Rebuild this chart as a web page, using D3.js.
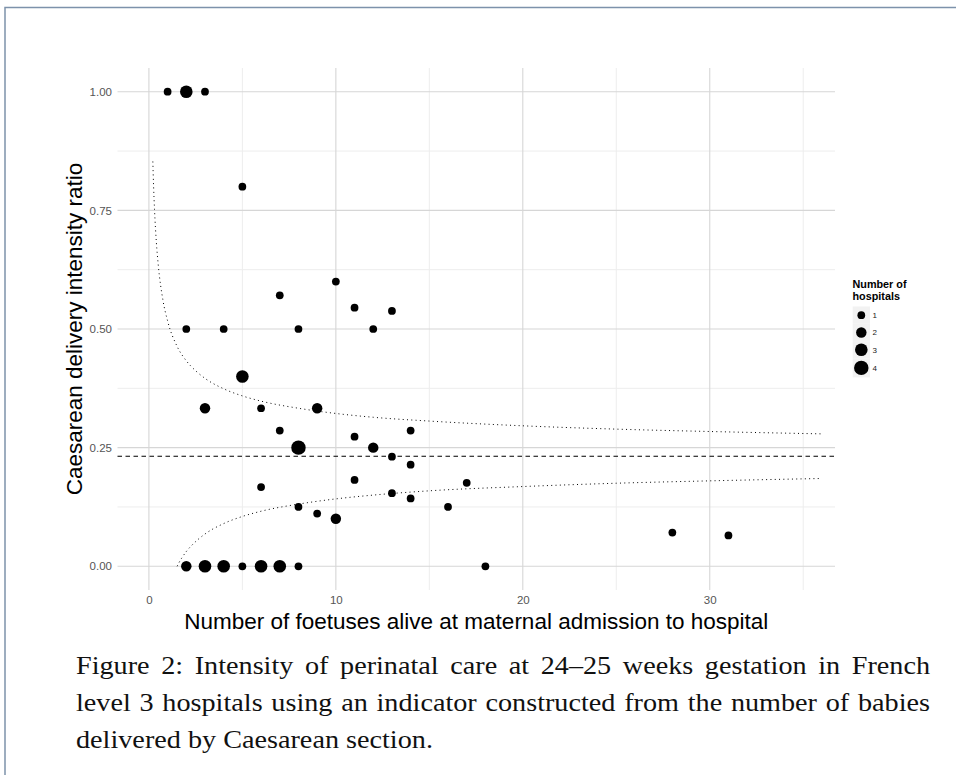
<!DOCTYPE html>
<html>
<head>
<meta charset="utf-8">
<title>Caesarean delivery intensity</title>
<script src="https://d3js.org/d3.v7.min.js"></script>
<style>
body { margin: 0; background: #fff; }
</style>
</head>
<body>
<div class="chart"></div>
<script>
// ======================
// data
// ======================
var foetuses = [1, 2, 3, 5, 10, 7, 11, 13, 2, 4, 8, 12, 5, 3, 6, 9, 7, 14, 11, 8, 12, 13,
    14, 11, 17, 6, 13, 14, 8, 16, 9, 10, 28, 31, 2, 3, 4, 5, 6, 7, 8, 18];
var caesareanRatio = [1, 1, 1, 0.8, 0.6, 0.571, 0.545, 0.538, 0.5, 0.5, 0.5, 0.5, 0.4, 0.333,
    0.333, 0.333, 0.286, 0.286, 0.273, 0.25, 0.25, 0.231, 0.214, 0.182, 0.176, 0.167, 0.154,
    0.143, 0.125, 0.125, 0.111, 0.1, 0.071, 0.065, 0, 0, 0, 0, 0, 0, 0, 0];
var hospitalCount = [1, 3, 1, 1, 1, 1, 1, 1, 1, 1, 1, 1, 3, 2, 1, 2, 1, 1, 1, 4, 2, 1,
    1, 1, 1, 1, 1, 1, 1, 1, 1, 2, 1, 1, 2, 3, 3, 1, 3, 3, 1, 1];

var overallRatio = 0.232;

// funnel limits (dotted)
var upperN = [0.21, 0.25, 0.3, 0.4, 0.5, 0.75, 1, 1.5, 2, 2.5, 3, 4, 5, 6, 8, 10, 12, 15, 20, 25, 30, 36];
var upperLimit = [0.853, 0.801, 0.752, 0.682, 0.635, 0.561, 0.517, 0.464, 0.433, 0.412, 0.396,
    0.374, 0.359, 0.348, 0.333, 0.322, 0.314, 0.306, 0.296, 0.289, 0.284, 0.279];
var lowerN = [1.51, 1.6, 1.75, 2, 2.5, 3, 4, 5, 6, 8, 10, 12, 15, 20, 25, 30, 36];
var lowerLimit = [0, 0.007, 0.017, 0.031, 0.052, 0.068, 0.090, 0.105, 0.116, 0.131, 0.142,
    0.150, 0.159, 0.168, 0.175, 0.180, 0.185];

var xMajor = [0, 10, 20, 30];
var xMinor = [5, 15, 25, 35];
var yMajor = [0, 0.25, 0.5, 0.75, 1];
var yMinor = [0.125, 0.375, 0.625, 0.875];
var sizeLevels = [1, 2, 3, 4];

var captionLines = [
    'Figure 2: Intensity of perinatal care at 24\u201325 weeks gestation in French',
    'level 3 hospitals using an indicator constructed from the number of babies',
    'delivered by Caesarean section.'
];

// ======================
// layout
// ======================
var width = 956, height = 775;
var panel = {left: 117.5, right: 835, top: 68, bottom: 590};
var sans = '"Liberation Sans", Arial, Helvetica, sans-serif';

var svg = d3.select('.chart').append('svg')
        .attr('width', width)
        .attr('height', height);

svg.append('rect')
        .attr('width', width)
        .attr('height', height)
        .attr('fill', '#fff');

// page frame (only left and top edges show)
svg.append('path')
        .attr('d', 'M 5 ' + height + ' L 5 7.5 L ' + width + ' 7.5')
        .attr('fill', 'none')
        .attr('stroke', '#7d92ab')
        .attr('stroke-width', 1.5);

var x = d3.scaleLinear().domain([-1.68, 36.7]).range([panel.left, panel.right]);
var y = d3.scaleLinear().domain([-0.05, 1.05]).range([panel.bottom, panel.top]);
var area = d3.scaleLinear().domain([1, 4]).range([15, 52]);
var radius = function (n) { return Math.sqrt(area(n)); };

// ======================
// grid
// ======================
var grid = svg.append('g');
grid.selectAll('.vminor').data(xMinor).enter().append('line')
        .attr('x1', function (d) { return x(d); })
        .attr('x2', function (d) { return x(d); })
        .attr('y1', panel.top).attr('y2', panel.bottom)
        .attr('stroke', '#ededed').attr('stroke-width', 1);
grid.selectAll('.hminor').data(yMinor).enter().append('line')
        .attr('y1', function (d) { return y(d); })
        .attr('y2', function (d) { return y(d); })
        .attr('x1', panel.left).attr('x2', panel.right)
        .attr('stroke', '#ededed').attr('stroke-width', 1);
grid.selectAll('.vmajor').data(xMajor).enter().append('line')
        .attr('x1', function (d) { return x(d); })
        .attr('x2', function (d) { return x(d); })
        .attr('y1', panel.top).attr('y2', panel.bottom)
        .attr('stroke', '#d6d6d6').attr('stroke-width', 1.1);
grid.selectAll('.hmajor').data(yMajor).enter().append('line')
        .attr('y1', function (d) { return y(d); })
        .attr('y2', function (d) { return y(d); })
        .attr('x1', panel.left).attr('x2', panel.right)
        .attr('stroke', '#d6d6d6').attr('stroke-width', 1.1);

// ======================
// axes (labels only)
// ======================
var xAxis = svg.append('g')
        .attr('transform', 'translate(0,' + panel.bottom + ')')
        .call(d3.axisBottom(x).tickValues(xMajor).tickSize(0).tickPadding(5.5));
var yAxis = svg.append('g')
        .attr('transform', 'translate(' + panel.left + ',0)')
        .call(d3.axisLeft(y).tickValues(yMajor).tickSize(0).tickPadding(5.5)
                .tickFormat(d3.format('.2f')));
[xAxis, yAxis].forEach(function (a) {
    a.select('.domain').remove();
    a.attr('font-size', 11.5).attr('font-family', sans);
    a.selectAll('text').attr('fill', '#555');
});

svg.append('text')
        .attr('x', (panel.left + panel.right) / 2)
        .attr('y', 629)
        .attr('text-anchor', 'middle')
        .attr('font-family', sans)
        .attr('font-size', 22.5)
        .text('Number of foetuses alive at maternal admission to hospital');
svg.append('text')
        .attr('transform', 'translate(82,' + (panel.top + panel.bottom) / 2 + ') rotate(-90)')
        .attr('text-anchor', 'middle')
        .attr('font-family', sans)
        .attr('font-size', 22.5)
        .text('Caesarean delivery intensity ratio');

// ======================
// reference lines
// ======================
svg.append('line')
        .attr('x1', panel.left).attr('x2', panel.right)
        .attr('y1', y(overallRatio)).attr('y2', y(overallRatio))
        .attr('stroke', '#000').attr('stroke-width', 1.1)
        .attr('stroke-dasharray', '4.5,3.5');

var limitLine = d3.line()
        .x(function (d) { return x(d[0]); })
        .y(function (d) { return y(d[1]); })
        .curve(d3.curveMonotoneX);
[d3.zip(upperN, upperLimit), d3.zip(lowerN, lowerLimit)].forEach(function (pts) {
    svg.append('path')
            .attr('d', limitLine(pts))
            .attr('fill', 'none')
            .attr('stroke', '#000')
            .attr('stroke-width', 1)
            .attr('stroke-dasharray', '1,3.3');
});

// ======================
// points
// ======================
var points = foetuses.map(function (n, i) {
    return {n: n, r: caesareanRatio[i], k: hospitalCount[i]};
});
svg.append('g').selectAll('circle').data(points).enter().append('circle')
        .attr('cx', function (d) { return x(d.n); })
        .attr('cy', function (d) { return y(d.r); })
        .attr('r', function (d) { return radius(d.k); })
        .attr('fill', '#000');

// ======================
// legend
// ======================
var legend = svg.append('g').attr('font-family', sans);
legend.append('text')
        .attr('x', 852.5).attr('y', 288)
        .attr('font-size', 10.8).attr('font-weight', 'bold')
        .text('Number of');
legend.append('text')
        .attr('x', 852.5).attr('y', 299.5)
        .attr('font-size', 10.8).attr('font-weight', 'bold')
        .text('hospitals');
var keyTop = 306.5;
sizeLevels.forEach(function (k) {
    var r = radius(k);
    var h = Math.max(17.3, 2 * r + 4.6);
    legend.append('rect')
            .attr('x', 852.7).attr('y', keyTop)
            .attr('width', 17.3).attr('height', h)
            .attr('fill', '#f2f2f2');
    legend.append('circle')
            .attr('cx', 861.3).attr('cy', keyTop + h / 2)
            .attr('r', r).attr('fill', '#000');
    legend.append('text')
            .attr('x', 872.5).attr('y', keyTop + h / 2 + 3)
            .attr('font-size', 8)
            .attr('fill', '#222')
            .text(k);
    keyTop += h;
});

// ======================
// caption (justified like the LaTeX source)
// ======================
var capScale = 1.085;
var capWidth = 854;
var cap = svg.append('g')
        .attr('transform', 'translate(76,0) scale(' + capScale + ',1)')
        .attr('font-family', '"Liberation Serif", "Times New Roman", serif')
        .attr('font-size', 26)
        .attr('fill', '#111');
captionLines.forEach(function (line, i) {
    var t = cap.append('text')
            .attr('x', 0)
            .attr('y', 674 + i * 37)
            .text(line);
    if (i < captionLines.length - 1) {
        var natural = t.node().getComputedTextLength();
        var spaces = line.split(' ').length - 1;
        t.attr('word-spacing', (capWidth / capScale - natural) / spaces);
    }
});
</script>
</body>
</html>
